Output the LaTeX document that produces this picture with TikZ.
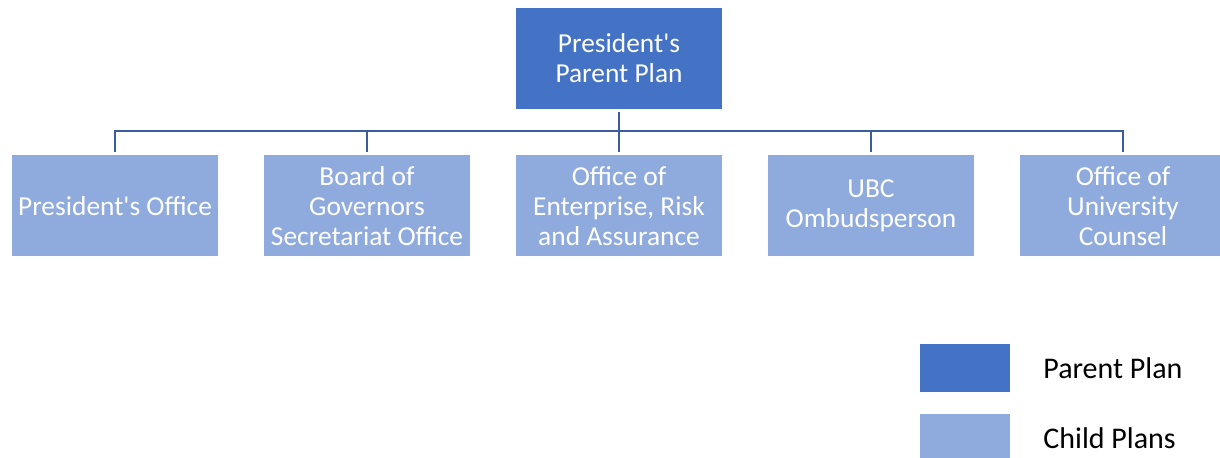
\documentclass[tikz,border=0pt]{standalone}
\usepackage{fontspec}
\setmainfont{Carlito}
\usetikzlibrary{positioning}
\definecolor{parentblue}{HTML}{4472C4}
\definecolor{childblue}{HTML}{8FAADC}
\definecolor{linkblue}{HTML}{3A5D9C}

\begin{document}
\begin{tikzpicture}[x=0.5pt, y=0.5pt,
	plan/.style={minimum width=103pt, minimum height=50.5pt, inner sep=0pt, outer sep=0pt,
		align=center, text=white, font=\fontsize{13.7}{15}\selectfont},
	parentplan/.style={plan, fill=parentblue},
	childplan/.style={plan, fill=childblue},
	link/.style={draw=linkblue, line width=1pt},
	key/.style={minimum width=45pt, minimum height=24pt, inner sep=0pt, outer sep=0pt},
	keytext/.style={inner sep=0pt, anchor=west, font=\fontsize{15}{18}\selectfont}]
	\useasboundingbox (0,0) rectangle (1220,458);
	
	\node[parentplan] (parent) at (619,399.5) {President\textquotesingle s\\Parent Plan};
	
	\node[childplan] (office) at (115,252) {President\textquotesingle s Office};
	\node[childplan, right=23pt of office] (board) {Board of\\Governors\\Secretariat Office};
	\node[childplan, right=23pt of board] (risk) {Office of\\Enterprise, Risk\\and Assurance};
	\node[childplan, right=23pt of risk] (ombuds) {UBC\\Ombudsperson};
	\node[childplan, right=23pt of ombuds] (counsel) {Office of\\University\\Counsel};
	
	\draw[link] ([yshift=-1.5pt]parent.south) -- ([yshift=1.5pt]risk.north);
	\draw[link] ([yshift=1.5pt]office.north) -- ++(0,21) -| ([yshift=1.5pt]counsel.north);
	\draw[link] ([yshift=1.5pt]board.north) -- ++(0,21);
	\draw[link] ([yshift=1.5pt]ombuds.north) -- ++(0,21);
	
	\node[key, fill=parentblue] (keyparent) at (965,90) {};
	\node[key, fill=childblue, below=11pt of keyparent] (keychild) {};
	\node[keytext, right=16.5pt of keyparent] (keyparenttext) {Parent Plan};
	\node[keytext, right=16.5pt of keychild] (keychildtext) {Child Plans};
\end{tikzpicture}
\end{document}
